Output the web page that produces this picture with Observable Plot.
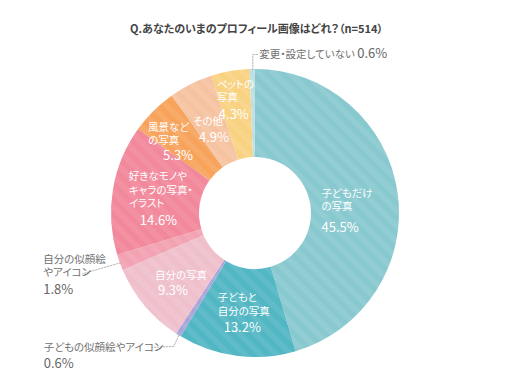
<!DOCTYPE html>
<html><head><meta charset="utf-8">
<script src="https://cdn.jsdelivr.net/npm/d3@7"></script>
<script src="https://cdn.jsdelivr.net/npm/@observablehq/plot@0.6"></script>
<style>
body{margin:0;background:#fff;}
svg text{font-feature-settings:"palt" 1;}
</style>
</head><body><div id="chart"></div>
<script>
// ---- data ----
const title = "Q.あなたのいまのプロフィール画像はどれ？（n=514）";
const categories = ["子どもだけの写真","子どもと自分の写真","子どもの似顔絵やアイコン","自分の写真","自分の似顔絵やアイコン","好きなモノやキャラの写真・イラスト","風景などの写真","その他","ペットの写真","変更・設定していない"];
const values = [45.5, 13.2, 0.6, 9.3, 1.8, 14.6, 5.3, 4.9, 4.3, 0.6];
const labelLines = [["子どもだけ","の写真"],["子どもと","自分の写真"],["子どもの似顔絵やアイコン"],["自分の写真"],["自分の似顔絵","やアイコン"],["好きなモノや","キャラの写真・","イラスト"],["風景など","の写真"],["その他"],["ペットの","写真"],["変更・設定していない"]];
const colors = ["#88C9CF","#52B6C3","#A9A5D8","#EFC0CC","#F2A2B2","#F2889B","#F7A35C","#F6C3A1","#F8D281","#BFE0E1"];

// ---- layout ----
const W = 522, H = 384, CX = 255, CY = 213;
const R_OUT = 144, R_IN = 56, R_LAB = 100;
const FONT = "'Noto Sans CJK JP', 'Noto Sans', sans-serif";
const PCT_SIZE = 13;
const pieData = d3.pie().sort(null).value(d => d)(values);
const mids = pieData.map(p => (p.startAngle + p.endAngle) / 2);
const polar = (a, r) => [r * Math.sin(a), -r * Math.cos(a)];

// inside labels: offsets from centroid for first name line and percentage
const inside = [
  {i: 0, name: [-33, -6], pct: [-33, 29]},
  {i: 1, name: [-25, -15], pct: [-19, 15.5]},
  {i: 3, name: [-24, -2], pct: [-21, 13.5]},
  {i: 5, name: [-28, -20], pct: [-17, 24]},
  {i: 6, name: [-37, -15], pct: [-22, 13.5]},
  {i: 7, name: [-18, -2], pct: [-12, 13.5]},
  {i: 8, name: [-21.5, -30.5], pct: [-19.5, 0]}
];
const LINE = 13.5;
const inName = [], inPct = [];
for (const {i, name, pct} of inside) {
  const [x, y] = polar(mids[i], R_LAB);
  labelLines[i].forEach((t, j) => inName.push({x: x + name[0], y: y + name[1] + j * LINE, t}));
  inPct.push({x: x + pct[0], y: y + pct[1], t: values[i].toFixed(1) + "%"});
}

// outside labels with leader lines: bends relative to slice outer point
const outside = [
  {i: 2, bends: [[-5, 11], [-26, 12]], text: [-135, 12], pct: 16},
  {i: 4, bends: [[-38, 11]], text: [-77, -3.5], pct: 30}
];
const outName = [], outPct = [], leaders = [];
for (const {i, bends, text, pct} of outside) {
  const [x, y] = polar(mids[i], R_OUT);
  leaders.push({k: i, x, y});
  for (const [dx, dy] of bends) leaders.push({k: i, x: x + dx, y: y + dy});
  labelLines[i].forEach((t, j) => outName.push({x: x + text[0], y: y + text[1] + j * LINE, t}));
  outPct.push({x: x + text[0], y: y + text[1] + pct, t: values[i].toFixed(1) + "%"});
}
// top label (変更・設定していない)
{
  const i = 9;
  const [x, y] = polar(mids[i], R_OUT);
  leaders.push({k: i, x, y}, {k: i, x, y: y - 15}, {k: i, x: x + 5, y: y - 15});
}
const topLabel = (() => { const [x, y] = polar(mids[9], R_OUT); return {x: x + 7, y: y - 15}; })();

function ringMark(index, scales) {
  const sx = scales && scales.x ? scales.x : d3.scaleLinear([-CX, W - CX], [0, W]);
  const sy = scales && scales.y ? scales.y : d3.scaleLinear([-CY, H - CY], [0, H]);
  const k = sx(1) - sx(0);
  const g = d3.create("svg:g");
  const pat = g.append("defs").append("pattern")
    .attr("id", "stripes").attr("patternUnits", "userSpaceOnUse")
    .attr("width", 11).attr("height", 11).attr("patternTransform", "rotate(-45)");
  pat.append("rect").attr("width", 5.5).attr("height", 11).attr("fill", "#fff").attr("fill-opacity", 0.08);
  const arc = d3.arc().innerRadius(R_IN * k).outerRadius(R_OUT * k);
  const t = `translate(${sx(0)},${sy(0)})`;
  g.append("g").attr("transform", t).selectAll("path").data(pieData).join("path")
    .attr("d", arc).attr("fill", (d, i) => colors[i]);
  g.append("g").attr("transform", t).selectAll("path").data(pieData).join("path")
    .attr("d", arc).attr("fill", "url(#stripes)");
  return g.node();
}

function topLabelMark(index, scales) {
  const sx = scales && scales.x ? scales.x : d3.scaleLinear([-CX, W - CX], [0, W]);
  const sy = scales && scales.y ? scales.y : d3.scaleLinear([-CY, H - CY], [0, H]);
  const txt = d3.create("svg:text")
    .attr("x", sx(topLabel.x)).attr("y", sy(topLabel.y)).attr("dy", "0.36em")
    .attr("text-anchor", "start")
    .attr("font-family", FONT);
  txt.append("tspan").attr("font-size", 10.5).attr("fill", "#707070").text(labelLines[9][0] + " ");
  txt.append("tspan").attr("font-size", PCT_SIZE).attr("fill", "#666").text(values[9].toFixed(1) + "%");
  return txt.node();
}

const chart = Plot.plot({
  width: W, height: H, margin: 0,
  x: {domain: [-CX, W - CX], range: [0, W], axis: null},
  y: {domain: [-CY, H - CY], range: [0, H], axis: null},
  style: {fontFamily: FONT, background: "#fff", overflow: "visible"},
  marks: [
    ringMark,
    Plot.line(leaders, {x: "x", y: "y", z: "k", stroke: "#a0a0a0", strokeWidth: 0.8, strokeDasharray: "1.5,1.5"}),
    Plot.text(inName, {x: "x", y: "y", text: "t", fill: "#fff", fontSize: 10.5, textAnchor: "start"}),
    Plot.text(inPct, {x: "x", y: "y", text: "t", fill: "#fff", fontSize: PCT_SIZE, textAnchor: "start"}),
    Plot.text(outName, {x: "x", y: "y", text: "t", fill: "#707070", fontSize: 10.5, textAnchor: "start"}),
    Plot.text(outPct, {x: "x", y: "y", text: "t", fill: "#666", fontSize: PCT_SIZE, textAnchor: "start"}),
    topLabelMark,
    Plot.text([title], {frameAnchor: "top", dy: 25, dx: -5, text: d => d, fill: "#444", fontSize: 11, fontWeight: "bold"})
  ]
});
document.getElementById("chart").appendChild(chart);
</script>
</body></html>
